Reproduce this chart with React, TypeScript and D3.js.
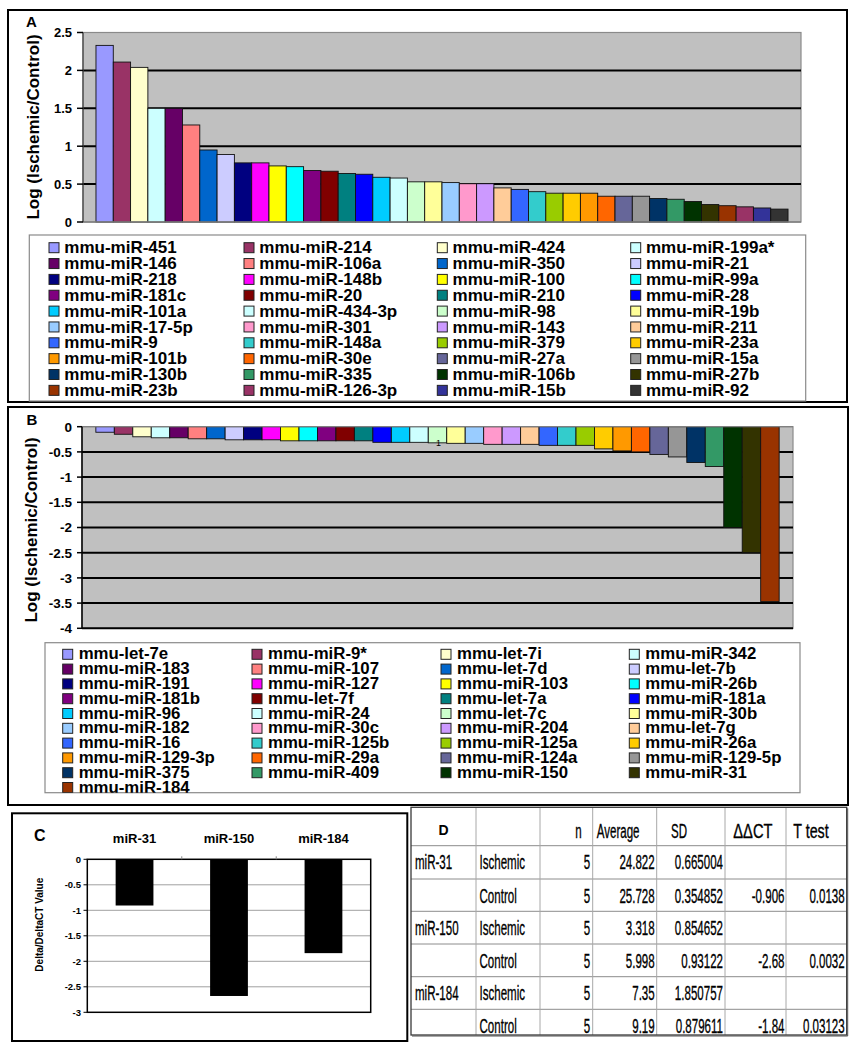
import React from 'react';
import * as d3 from 'd3';

const FONT = '"Liberation Sans", Arial, Helvetica, sans-serif';

// Excel default series palette
const PALETTE = [
  '#9999FF', '#993366', '#FFFFCC', '#CCFFFF', '#660066', '#FF8080', '#0066CC', '#CCCCFF',
  '#000080', '#FF00FF', '#FFFF00', '#00FFFF', '#800080', '#800000', '#008080', '#0000FF',
  '#00CCFF', '#CCFFFF', '#CCFFCC', '#FFFF99', '#99CCFF', '#FF99CC', '#CC99FF', '#FFCC99',
  '#3366FF', '#33CCCC', '#99CC00', '#FFCC00', '#FF9900', '#FF6600', '#666699', '#969696',
  '#003366', '#339966', '#003300', '#333300', '#993300', '#993366', '#333399', '#333333',
];

// Panel A: up-regulated
const upNames = [
  'mmu-miR-451', 'mmu-miR-214', 'mmu-miR-424', 'mmu-miR-199a*',
  'mmu-miR-146', 'mmu-miR-106a', 'mmu-miR-350', 'mmu-miR-21',
  'mmu-miR-218', 'mmu-miR-148b', 'mmu-miR-100', 'mmu-miR-99a',
  'mmu-miR-181c', 'mmu-miR-20', 'mmu-miR-210', 'mmu-miR-28',
  'mmu-miR-101a', 'mmu-miR-434-3p', 'mmu-miR-98', 'mmu-miR-19b',
  'mmu-miR-17-5p', 'mmu-miR-301', 'mmu-miR-143', 'mmu-miR-211',
  'mmu-miR-9', 'mmu-miR-148a', 'mmu-miR-379', 'mmu-miR-23a',
  'mmu-miR-101b', 'mmu-miR-30e', 'mmu-miR-27a', 'mmu-miR-15a',
  'mmu-miR-130b', 'mmu-miR-335', 'mmu-miR-106b', 'mmu-miR-27b',
  'mmu-miR-23b', 'mmu-miR-126-3p', 'mmu-miR-15b', 'mmu-miR-92',
];
const upValues = [
  2.33, 2.11, 2.04, 1.5, 1.5, 1.28, 0.95, 0.89, 0.78, 0.78,
  0.74, 0.73, 0.68, 0.67, 0.64, 0.63, 0.59, 0.58, 0.53, 0.53,
  0.52, 0.505, 0.505, 0.45, 0.43, 0.4, 0.38, 0.38, 0.38, 0.34,
  0.34, 0.34, 0.31, 0.3, 0.27, 0.23, 0.215, 0.2, 0.185, 0.17,
];
const yTicksA = [0, 0.5, 1, 1.5, 2, 2.5];

// Panel B: down-regulated
const downNames = [
  'mmu-let-7e', 'mmu-miR-9*', 'mmu-let-7i', 'mmu-miR-342',
  'mmu-miR-183', 'mmu-miR-107', 'mmu-let-7d', 'mmu-let-7b',
  'mmu-miR-191', 'mmu-miR-127', 'mmu-miR-103', 'mmu-miR-26b',
  'mmu-miR-181b', 'mmu-let-7f', 'mmu-let-7a', 'mmu-miR-181a',
  'mmu-miR-96', 'mmu-miR-24', 'mmu-let-7c', 'mmu-miR-30b',
  'mmu-miR-182', 'mmu-miR-30c', 'mmu-miR-204', 'mmu-let-7g',
  'mmu-miR-16', 'mmu-miR-125b', 'mmu-miR-125a', 'mmu-miR-26a',
  'mmu-miR-129-3p', 'mmu-miR-29a', 'mmu-miR-124a', 'mmu-miR-129-5p',
  'mmu-miR-375', 'mmu-miR-409', 'mmu-miR-150', 'mmu-miR-31',
  'mmu-miR-184',
];
const downValues = [
  -0.11, -0.15, -0.2, -0.22, -0.22, -0.24, -0.24, -0.26, -0.26, -0.26,
  -0.28, -0.28, -0.28, -0.28, -0.28, -0.31, -0.31, -0.31, -0.32, -0.33,
  -0.33, -0.35, -0.35, -0.35, -0.37, -0.37, -0.37, -0.44, -0.48, -0.5,
  -0.55, -0.6, -0.71, -0.79, -2.0, -2.5, -3.47,
];
const yTicksB = [0, -0.5, -1, -1.5, -2, -2.5, -3, -3.5, -4];

// Panel C
const qpcrGenes = ['miR-31', 'miR-150', 'miR-184'];
const qpcrDDCT = [-0.906, -2.68, -1.84];
const yTicksC = [0, -0.5, -1, -1.5, -2, -2.5, -3];

// Panel D table
const tableGene = ['miR-31', '', 'miR-150', '', 'miR-184', ''];
const tableGroup = ['Ischemic', 'Control', 'Ischemic', 'Control', 'Ischemic', 'Control'];
const tableN = ['5', '5', '5', '5', '5', '5'];
const tableAvg = ['24.822', '25.728', '3.318', '5.998', '7.35', '9.19'];
const tableSD = ['0.665004', '0.354852', '0.854652', '0.93122', '1.850757', '0.879611'];
const tableDDCT = ['', '-0.906', '', '-2.68', '', '-1.84'];
const tableTtest = ['', '0.0138', '', '0.0032', '', '0.03123'];

const fmt = (v: number) => String(v);

function Legend({ names, box, colX, textDx, baseline0, rowStep, swatchDy, fontSize, clipId }: any) {
  return (
    <g>
      <defs>
        <clipPath id={clipId}>
          <rect x={box.x} y={box.y} width={box.w} height={box.h} />
        </clipPath>
      </defs>
      <rect x={box.x} y={box.y} width={box.w} height={box.h} fill="#fff" stroke="#8a8a8a" strokeWidth={1.2} />
      <g clipPath={`url(#${clipId})`}>
        {names.map((n: string, i: number) => {
          const c = i % 4;
          const r = Math.floor(i / 4);
          const by = baseline0 + r * rowStep;
          return (
            <g key={n + i}>
              <rect x={colX[c]} y={by - swatchDy} width={10} height={10} fill={PALETTE[i]} stroke="#222" strokeWidth={1} />
              <text x={colX[c] + textDx} y={by} fontSize={fontSize} fontWeight="bold" fontFamily={FONT} fill="#000">{n}</text>
            </g>
          );
        })}
      </g>
    </g>
  );
}

function TCell({ x, y, anchor = 'start', children, bold = false, size = 21, sx = 0.55 }: any) {
  return (
    <text transform={`translate(${x},${y}) scale(${sx},1)`} textAnchor={anchor} fontSize={size}
      fontWeight={bold ? 'bold' : 'normal'} fontFamily={FONT} fill="#000" stroke="#000" strokeWidth={0.35}>{children}</text>
  );
}

export default function App() {
  // ---------- Panel A ----------
  const plotA = { x0: 83, x1: 801, y0: 32.5, y1: 222 };
  const xA = d3.scaleBand<string>().domain(upNames).range([plotA.x0, plotA.x1]).paddingInner(0).paddingOuter(0.75);
  const yA = d3.scaleLinear().domain([0, 2.5]).range([plotA.y1, plotA.y0]);

  // ---------- Panel B ----------
  const plotB = { x0: 82, x1: 793, y0: 426.7, y1: 628.3 };
  const xB = d3.scaleBand<string>().domain(downNames).range([plotB.x0, plotB.x1]).paddingInner(0).paddingOuter(0.75);
  const yB = d3.scaleLinear().domain([-4, 0]).range([plotB.y1, plotB.y0]);

  // ---------- Panel C ----------
  const plotC = { x0: 87.3, x1: 370.7, y0: 859.3, y1: 1012.3 };
  const xC = d3.scaleBand<string>().domain(qpcrGenes).range([plotC.x0, plotC.x1]).paddingInner(0.6).paddingOuter(0.3);
  const yC = d3.scaleLinear().domain([-3, 0]).range([plotC.y1, plotC.y0]);
  const stepC = xC.step();

  // ---------- Panel D ----------
  const colEdges = [411, 476, 540, 592.7, 656.7, 725, 786, 846.7];
  const rowEdges = [807.3, 845.7, 879, 911.3, 944, 976.7, 1009.3, 1035];

  return (
    <svg width={858} height={1050} style={{ position: 'absolute', left: 0, top: 0, display: 'block', background: '#fff' }}
      fontFamily={FONT}>
      <rect x={0} y={0} width={858} height={1050} fill="#fff" />

      {/* ================= Panel A ================= */}
      <rect x={8} y={10} width={839} height={392} fill="#fff" stroke="#000" strokeWidth={2} />
      <text x={26} y={26.5} fontSize={15} fontWeight="bold">A</text>
      <rect x={plotA.x0} y={plotA.y0} width={plotA.x1 - plotA.x0} height={plotA.y1 - plotA.y0}
        fill="#C0C0C0" stroke="#8a8a8a" strokeWidth={1.2} />
      {yTicksA.filter(t => t > 0 && t < 2.5).map(t => (
        <line key={t} x1={plotA.x0} x2={plotA.x1} y1={yA(t)} y2={yA(t)} stroke="#000" strokeWidth={2} />
      ))}
      {upNames.map((n, i) => (
        <rect key={n} x={xA(n)} y={yA(upValues[i])} width={xA.bandwidth()} height={yA(0) - yA(upValues[i])}
          fill={PALETTE[i]} stroke="#111" strokeWidth={0.9} />
      ))}
      <line x1={plotA.x0} x2={plotA.x1} y1={yA(0)} y2={yA(0)} stroke="#808080" strokeWidth={1.5} />
      <line x1={plotA.x0} x2={plotA.x0} y1={plotA.y0} y2={plotA.y1} stroke="#404040" strokeWidth={1.2} />
      {yTicksA.map(t => (
        <g key={t}>
          <line x1={77} x2={plotA.x0} y1={yA(t)} y2={yA(t)} stroke="#000" strokeWidth={1.5} />
          <text x={72} y={yA(t)} dy="0.36em" textAnchor="end" fontSize={13} fontWeight="bold">{fmt(t)}</text>
        </g>
      ))}
      <text transform={`translate(33,127) rotate(-90)`} textAnchor="middle" dy="0.36em" fontSize={17} fontWeight="bold">
        Log (Ischemic/Control)
      </text>
      <Legend names={upNames} box={{ x: 29.3, y: 235, w: 776.4, h: 166 }} colX={[49, 244, 437.3, 630.7]}
        textDx={15.3} baseline0={253.3} rowStep={15.85} swatchDy={10.6} fontSize={17} clipId="clipLegA" />

      {/* ================= Panel B ================= */}
      <rect x={8} y={407} width={840} height={398} fill="#fff" stroke="#000" strokeWidth={2} />
      <text x={26.5} y={425} fontSize={15} fontWeight="bold">B</text>
      <rect x={plotB.x0} y={plotB.y0} width={plotB.x1 - plotB.x0} height={plotB.y1 - plotB.y0}
        fill="#C0C0C0" stroke="#8a8a8a" strokeWidth={1.2} />
      {yTicksB.filter(t => t < 0).map(t => (
        <line key={t} x1={plotB.x0} x2={plotB.x1} y1={yB(t)} y2={yB(t)} stroke="#000" strokeWidth={2} />
      ))}
      {downNames.map((n, i) => (
        <rect key={n} x={xB(n)} y={yB(0)} width={xB.bandwidth()} height={yB(downValues[i]) - yB(0)}
          fill={PALETTE[i]} stroke="#111" strokeWidth={0.9} />
      ))}
      <line x1={plotB.x0} x2={plotB.x1} y1={yB(0)} y2={yB(0)} stroke="#808080" strokeWidth={1.2} />
      <line x1={plotB.x0} x2={plotB.x0} y1={plotB.y0} y2={plotB.y1} stroke="#000" strokeWidth={1.5} />
      {yTicksB.map(t => (
        <g key={t}>
          <line x1={77} x2={plotB.x0} y1={yB(t)} y2={yB(t)} stroke="#000" strokeWidth={1.5} />
          <text x={72} y={yB(t)} dy="0.36em" textAnchor="end" fontSize={13.5} fontWeight="bold">{fmt(t)}</text>
        </g>
      ))}
      <text x={(plotB.x0 + plotB.x1) / 2 + 1} y={445.5} fontSize={9} textAnchor="middle">1</text>
      <text transform={`translate(31,530) rotate(-90)`} textAnchor="middle" dy="0.36em" fontSize={17} fontWeight="bold">
        Log (Ischemic/Control)
      </text>
      <Legend names={downNames} box={{ x: 45, y: 642.7, w: 755, h: 150 }} colX={[62.7, 252, 441, 629.3]}
        textDx={16} baseline0={659.3} rowStep={14.8} swatchDy={10} fontSize={16.8} clipId="clipLegB" />

      {/* ================= Panel C ================= */}
      <rect x={12} y={813.3} width={395.3} height={227.7} fill="#fff" stroke="#000" strokeWidth={2} />
      <text x={34} y={840.5} fontSize={16} fontWeight="bold">C</text>
      {qpcrGenes.map(g => (
        <text key={g} x={(xC(g) as number) + xC.bandwidth() / 2} y={842.5} textAnchor="middle" fontSize={13} fontWeight="bold">{g}</text>
      ))}
      <rect x={plotC.x0} y={plotC.y0} width={plotC.x1 - plotC.x0} height={plotC.y1 - plotC.y0} fill="#fff" stroke="none" />
      {yTicksC.filter(t => t < 0 && t > -3).map(t => (
        <line key={t} x1={plotC.x0} x2={plotC.x1} y1={yC(t)} y2={yC(t)} stroke="#a0a0a0" strokeWidth={1} />
      ))}
      {qpcrGenes.map((g, i) => (
        <rect key={g} x={xC(g)} y={yC(0)} width={xC.bandwidth()} height={yC(qpcrDDCT[i]) - yC(0)} fill="#000" />
      ))}
      <rect x={plotC.x0} y={plotC.y0} width={plotC.x1 - plotC.x0} height={plotC.y1 - plotC.y0} fill="none" stroke="#000" strokeWidth={1.5} />
      {[1, 2].map(k => (
        <line key={k} x1={plotC.x0 + stepC * k} x2={plotC.x0 + stepC * k} y1={plotC.y0 - 3} y2={plotC.y0} stroke="#888" strokeWidth={1} />
      ))}
      {yTicksC.map(t => (
        <g key={t}>
          <line x1={83.5} x2={plotC.x0} y1={yC(t)} y2={yC(t)} stroke="#000" strokeWidth={1} />
          <text x={81} y={yC(t)} dy="0.36em" textAnchor="end" fontSize={9.5} fontWeight="bold">{fmt(t)}</text>
        </g>
      ))}
      <text transform={`translate(39,924.7) rotate(-90)`} textAnchor="middle" dy="0.36em" fontSize={10} fontWeight="bold">
        Delta/DeltaCT Value
      </text>

      {/* ================= Panel D ================= */}
      <rect x={colEdges[0]} y={rowEdges[0]} width={colEdges[7] - colEdges[0]} height={rowEdges[7] - rowEdges[0]} fill="#fff" />
      {rowEdges.slice(1, -1).map((y, i) => (
        <line key={'h' + i} x1={colEdges[0]} x2={colEdges[7]} y1={y} y2={y} stroke="#8c8c8c" strokeWidth={1} />
      ))}
      {colEdges.slice(1, -1).map((x, i) => (
        <line key={'v' + i} x1={x} x2={x} y1={rowEdges[0]} y2={rowEdges[7]} stroke="#a8a8a8" strokeWidth={1} />
      ))}
      <rect x={colEdges[0]} y={rowEdges[0]} width={colEdges[7] - colEdges[0]} height={rowEdges[7] - rowEdges[0]}
        fill="none" stroke="#3a3a3a" strokeWidth={1.3} />
      <line x1={colEdges[7] + 1} x2={colEdges[7] + 1} y1={rowEdges[0] + 1} y2={rowEdges[7] + 1} stroke="#555" strokeWidth={1} />
      <line x1={colEdges[0] + 1} x2={colEdges[7] + 1} y1={rowEdges[7] + 1} y2={rowEdges[7] + 1} stroke="#555" strokeWidth={1} />

      <text x={(colEdges[0] + colEdges[1]) / 2} y={835} textAnchor="middle" fontSize={14} fontWeight="bold">D</text>
      <TCell x={581.7} y={837.5} anchor="end">n</TCell>
      <TCell x={596.7} y={837.5}>Average</TCell>
      <TCell x={671} y={837.5}>SD</TCell>
      <TCell x={733.3} y={837.5} sx={0.7}>ΔΔCT</TCell>
      <TCell x={793.3} y={837.5} sx={0.68}>T test</TCell>

      {tableGroup.map((grp, i) => {
        const y = rowEdges[i + 1] + 23.5;
        return (
          <g key={i}>
            {tableGene[i] && <TCell x={colEdges[0] + 4} y={y}>{tableGene[i]}</TCell>}
            <TCell x={colEdges[1] + 3.5} y={y}>{grp}</TCell>
            <TCell x={colEdges[3] - 2.5} y={y} anchor="end">{tableN[i]}</TCell>
            <TCell x={colEdges[4] - 2} y={y} anchor="end">{tableAvg[i]}</TCell>
            <TCell x={colEdges[5] - 2} y={y} anchor="end">{tableSD[i]}</TCell>
            {tableDDCT[i] && <TCell x={colEdges[6] - 1.5} y={y} anchor="end">{tableDDCT[i]}</TCell>}
            {tableTtest[i] && <TCell x={colEdges[7] - 2} y={y} anchor="end">{tableTtest[i]}</TCell>}
          </g>
        );
      })}
    </svg>
  );
}
